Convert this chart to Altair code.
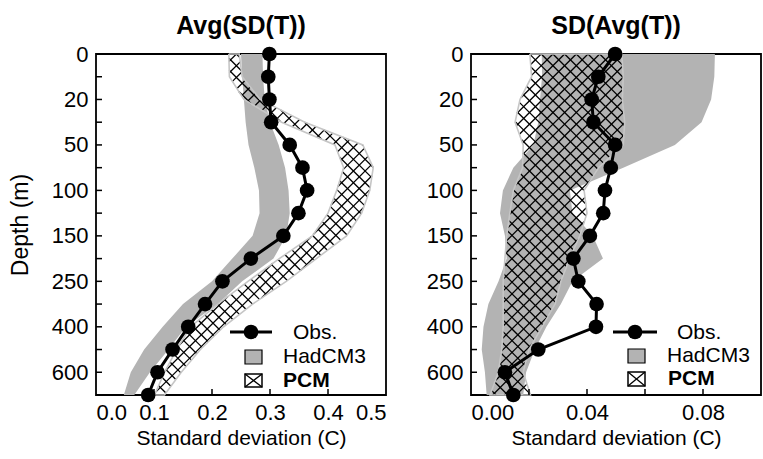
import altair as alt
import pandas as pd
import numpy as np

# ---------------- data ----------------
depths = [0, 10, 20, 30, 50, 75, 100, 125, 150, 200, 250, 300, 400, 500, 600, 700]

# Left panel: Avg(SD(T))
obs_avgsd = [0.299, 0.297, 0.299, 0.302, 0.334, 0.356, 0.364, 0.349, 0.323, 0.267,
             0.218, 0.188, 0.159, 0.132, 0.106, 0.090]
had_avgsd_lo = [0.250, 0.252, 0.255, 0.258, 0.263, 0.273, 0.281, 0.282, 0.270, 0.235,
                0.200, 0.150, 0.115, 0.083, 0.060, 0.048]
had_avgsd_hi = [0.287, 0.288, 0.291, 0.300, 0.315, 0.326, 0.332, 0.334, 0.328, 0.306,
                0.252, 0.210, 0.155, 0.125, 0.093, 0.066]
pcm_avgsd_lo = [0.229, 0.230, 0.255, 0.320, 0.412, 0.427, 0.415, 0.400, 0.373, 0.316,
                0.262, 0.210, 0.163, 0.139, 0.118, 0.101]
pcm_avgsd_hi = [0.247, 0.252, 0.283, 0.360, 0.460, 0.478, 0.472, 0.458, 0.432, 0.380,
                0.328, 0.270, 0.220, 0.180, 0.147, 0.118]

# Right panel: SD(Avg(T))
obs_sdavg = [0.0497, 0.0439, 0.0416, 0.0422, 0.0497, 0.0482, 0.0462, 0.0456, 0.0410, 0.0353,
             0.0370, 0.0433, 0.0431, 0.0232, 0.0117, 0.0146]
had_sdavg_lo = [0.0244, 0.0245, 0.0238, 0.0232, 0.0215, 0.0146, 0.0110, 0.0100, 0.0117, 0.0123,
                0.0095, 0.0060, 0.0043, 0.0037, 0.0048, 0.0054]
had_sdavg_hi = [0.0841, 0.0839, 0.0828, 0.0795, 0.0703, 0.0525, 0.0341, 0.0350, 0.0420, 0.0455,
                0.0350, 0.0310, 0.0260, 0.0220, 0.0190, 0.0180]
pcm_sdavg_lo = [0.0203, 0.0209, 0.0169, 0.0152, 0.0180, 0.0178, 0.0146, 0.0134, 0.0123, 0.0117,
                0.0111, 0.0111, 0.0111, 0.0106, 0.0094, 0.0066]
pcm_sdavg_hi = [0.0520, 0.0525, 0.0522, 0.0530, 0.0525, 0.0440, 0.0390, 0.0400, 0.0375, 0.0340,
                0.0310, 0.0290, 0.0245, 0.0200, 0.0180, 0.0205]

titles = ["Avg(SD(T))", "SD(Avg(T))"]
legend_labels = ["Obs.", "HadCM3", "PCM"]
x_title = "Standard deviation (C)"
y_title = "Depth (m)"
x_ticks_left = [0.0, 0.1, 0.2, 0.3, 0.4, 0.5]
x_ticks_right = [0.0, 0.02, 0.04, 0.06, 0.08, 0.10]
x_labels_right = [0.0, 0.04, 0.08]

# ---------------- style / layout ----------------
FONT = "Liberation Sans"
W, H = 290, 341
NL = len(depths) - 1
HATCH = 11.7
TICK = 6
GRAY = "#b3b3b3"
OUTLINE = "#c6c6c6"

ylab = [str(d) if i % 2 == 0 else "" for i, d in enumerate(depths)]
ylab_expr = "[" + ",".join("'%s'" % s for s in ylab) + "][datum.value]"


def hatch_df(lo, hi, xmax):
    n = len(lo)
    sx = W / xmax
    sy = H / (n - 1)
    Lp = [v * sx for v in lo]
    Hp = [v * sx for v in hi]
    segs = []
    for s in (1, -1):
        cvals = [Lp[i] - s * i * sy for i in range(n)] + [Hp[i] - s * i * sy for i in range(n)]
        kmin = int(np.floor(min(cvals) / HATCH)) - 1
        kmax = int(np.ceil(max(cvals) / HATCH)) + 1
        for k in range(kmin, kmax + 1):
            c = k * HATCH
            pieces = []
            for i in range(n - 1):
                y0, y1 = i * sy, (i + 1) * sy
                a1 = c + s * y0 - Lp[i]
                b1 = (c + s * y1 - Lp[i + 1]) - a1
                a2 = Hp[i] - c - s * y0
                b2 = (Hp[i + 1] - c - s * y1) - a2
                t0, t1 = 0.0, 1.0
                for a, b in ((a1, b1), (a2, b2)):
                    if abs(b) < 1e-12:
                        if a < 0:
                            t0, t1 = 1.0, 0.0
                    elif b > 0:
                        t0 = max(t0, -a / b)
                    else:
                        t1 = min(t1, -a / b)
                if t1 > t0 + 1e-9:
                    pieces.append((y0 + t0 * sy, y0 + t1 * sy))
            merged = []
            for p in pieces:
                if merged and abs(merged[-1][1] - p[0]) < 1e-6:
                    merged[-1] = (merged[-1][0], p[1])
                else:
                    merged.append(p)
            for ya, yb in merged:
                segs.append(dict(hx=(c + s * ya) / sx, hy=ya / sy,
                                 hx2=(c + s * yb) / sx, hy2=yb / sy))
    return pd.DataFrame(segs)


def panel(title, obs, hlo, hhi, plo, phi, xmax, xlabels, xfmt, xticks, ytitle, leg):
    idx = list(range(len(depths)))
    xs = alt.Scale(domain=[0, xmax], nice=False, zero=False)
    ys = alt.Scale(domain=[0, NL], reverse=True, nice=False, zero=False)

    xaxis = alt.Axis(values=xlabels, format=xfmt, ticks=False, tickSize=0, domain=False,
                     grid=False, labelFont=FONT, labelFontSize=22, labelColor="black",
                     labelPadding=7, title=x_title, titleFont=FONT, titleFontSize=21,
                     titleFontWeight="normal", titleColor="black", titlePadding=4)
    yaxis_kw = dict(values=idx, labelExpr=ylab_expr, ticks=False, tickSize=0, domain=False,
                    grid=False, labelFont=FONT, labelFontSize=22, labelColor="black",
                    labelPadding=8, titleFont=FONT, titleFontSize=23,
                    titleFontWeight="normal", titleColor="black", titlePadding=19)
    if ytitle:
        yaxis = alt.Axis(title=ytitle, **yaxis_kw)
    else:
        yaxis = alt.Axis(title=None, **yaxis_kw)

    def X(f):
        return alt.X(f, scale=xs, axis=xaxis, title=x_title)

    def Y(f):
        return alt.Y(f, scale=ys, axis=yaxis, title=ytitle)

    band = pd.DataFrame(dict(idx=idx, lo=hlo, hi=hhi))
    area = alt.Chart(band).mark_area(orient="horizontal", color=GRAY, opacity=1).encode(
        y=Y("idx:Q"), x=X("lo:Q"), x2="hi:Q",
    )

    hd = hatch_df(plo, phi, xmax)
    hatch = alt.Chart(hd).mark_rule(color="black", strokeWidth=1.3).encode(
        x=X("hx:Q"), x2="hx2:Q", y=Y("hy:Q"), y2="hy2:Q",
    )

    ox = list(plo) + list(phi)[::-1] + [plo[0]]
    oy = idx + idx[::-1] + [0]
    outline = alt.Chart(pd.DataFrame(dict(ox=ox, oy=oy, seq=range(len(ox))))).mark_line(
        color=OUTLINE, strokeWidth=1.6).encode(
        x=X("ox:Q"), y=Y("oy:Q"), order="seq:Q",
    )

    od = pd.DataFrame(dict(idx=idx, v=obs))
    oline = alt.Chart(od).mark_line(color="black", strokeWidth=3).encode(
        x=X("v:Q"), y=Y("idx:Q"), order="idx:Q",
    )
    opts = alt.Chart(od).mark_circle(color="black", size=215, opacity=1).encode(
        x=X("v:Q"), y=Y("idx:Q"),
    )

    # inward ticks
    ytk = pd.DataFrame(dict(t=idx[1:-1], a=[0.0] * (len(idx) - 2),
                            b=[TICK / W * xmax] * (len(idx) - 2)))
    yticks = alt.Chart(ytk).mark_rule(color="black", strokeWidth=1.5).encode(
        x=X("a:Q"), x2="b:Q", y=Y("t:Q"),
    )
    inner = [t for t in xticks if 0 < t < xmax - 1e-9]
    xtk = pd.DataFrame(dict(t=inner, a=[float(NL)] * len(inner),
                            b=[NL - TICK / H * NL] * len(inner)))
    xticks_l = alt.Chart(xtk).mark_rule(color="black", strokeWidth=1.5).encode(
        x=X("t:Q"), y=Y("a:Q"), y2="b:Q",
    )

    # legend
    one = pd.DataFrame({"k": [0]})
    lx0, lx1, cx, tx_obs, ly_obs = leg["line"]
    sq_x0, sq_x1 = leg["sqx"]
    (h_y0, h_y1), (p_y0, p_y1) = leg["sqy"]
    tx = leg["tx"]
    legs = [
        alt.Chart(one).mark_rule(color="black", strokeWidth=3).encode(
            x=alt.value(lx0), x2=alt.value(lx1), y=alt.value(ly_obs)),
        alt.Chart(one).mark_circle(color="black", size=215, opacity=1).encode(
            x=alt.value(cx), y=alt.value(ly_obs)),
        alt.Chart(one).mark_rect(color=GRAY, stroke="black", strokeWidth=1.2).encode(
            x=alt.value(sq_x0), x2=alt.value(sq_x1), y=alt.value(h_y0), y2=alt.value(h_y1)),
        alt.Chart(one).mark_rect(color="white", stroke="black", strokeWidth=1.5).encode(
            x=alt.value(sq_x0), x2=alt.value(sq_x1), y=alt.value(p_y0), y2=alt.value(p_y1)),
        alt.Chart(one).mark_rule(color="black", strokeWidth=1.3).encode(
            x=alt.value(sq_x0), x2=alt.value(sq_x1), y=alt.value(p_y0), y2=alt.value(p_y1)),
        alt.Chart(one).mark_rule(color="black", strokeWidth=1.3).encode(
            x=alt.value(sq_x0), x2=alt.value(sq_x1), y=alt.value(p_y1), y2=alt.value(p_y0)),
        alt.Chart(one).mark_text(align="left", baseline="middle", font=FONT, fontSize=21,
                                 color="black", text=legend_labels[0]).encode(
            x=alt.value(tx_obs), y=alt.value(ly_obs + 1)),
        alt.Chart(one).mark_text(align="left", baseline="middle", font=FONT, fontSize=21,
                                 color="black", text=legend_labels[1]).encode(
            x=alt.value(tx[0]), y=alt.value((h_y0 + h_y1) / 2)),
        alt.Chart(one).mark_text(align="left", baseline="middle", font=FONT, fontSize=21,
                                 fontWeight="bold", color="black", text=legend_labels[2]).encode(
            x=alt.value(tx[1]), y=alt.value((p_y0 + p_y1) / 2)),
    ]

    return alt.layer(area, hatch, outline, oline, opts, yticks, xticks_l, *legs).properties(
        width=W, height=H,
        view=alt.ViewBackground(stroke="black", strokeWidth=1.8, fill="white"),
        title=alt.TitleParams(title, font=FONT, fontSize=25, fontWeight="bold", color="black",
                              anchor="middle", frame="group", offset=4),
    )


left = panel(titles[0], obs_avgsd, had_avgsd_lo, had_avgsd_hi, pcm_avgsd_lo, pcm_avgsd_hi,
             0.5, x_ticks_left, ".1f", x_ticks_left, y_title,
             dict(line=(134, 176, 155, 197, 278), sqx=(149, 166),
                  sqy=((296, 310), (320, 333)), tx=(187, 187)))
right = panel(titles[1], obs_sdavg, had_sdavg_lo, had_sdavg_hi, pcm_sdavg_lo, pcm_sdavg_hi,
              0.1, x_labels_right, ".2f", x_ticks_right, None,
              dict(line=(142, 186, 164, 206, 278), sqx=(157, 174),
                   sqy=((295, 309), (318, 332)), tx=(196, 197)))

chart = alt.hconcat(left, right, spacing=85, bounds="flush").properties(
    padding={"left": 8, "top": 13, "right": 0, "bottom": 0},
    background="white",
).configure_view(stroke="black", strokeWidth=1.8)

chart.save("out.html", embed_options={"renderer": "svg", "actions": False})
